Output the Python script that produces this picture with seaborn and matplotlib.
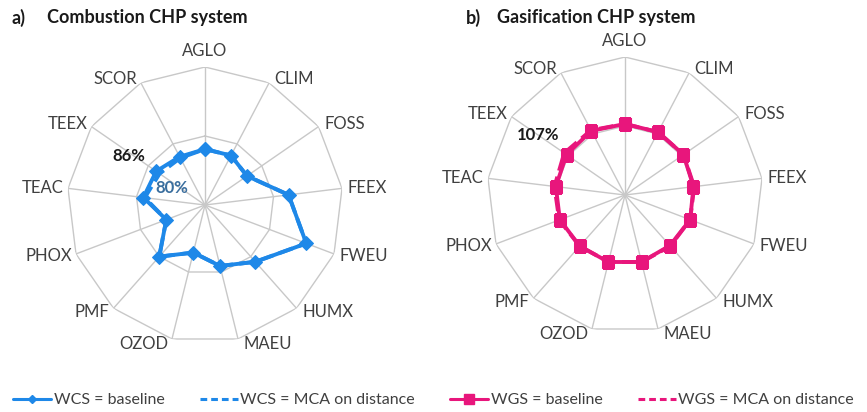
import numpy as np
import pandas as pd
import matplotlib
matplotlib.use("Agg")
import matplotlib.pyplot as plt
import seaborn as sns
from matplotlib.lines import Line2D

sns.set_theme(style="white")
plt.rcParams['font.family'] = ['Lato', 'DejaVu Sans']

categories = ["AGLO", "CLIM", "FOSS", "FEEX", "FWEU", "HUMX", "MAEU",
              "OZOD", "PMF", "PHOX", "TEAC", "TEEX", "SCOR"]

wcs_baseline = [0.81, 0.81, 0.74, 1.22, 1.57, 1.10, 0.91, 0.71, 1.00, 0.60, 0.90, 0.86, 0.79]
wcs_mca      = [0.81, 0.81, 0.74, 1.22, 1.57, 1.10, 0.91, 0.71, 1.00, 0.60, 0.88, 0.80, 0.77]
wgs_baseline = [1.03, 1.03, 1.03, 1.00, 1.01, 0.98, 1.00, 1.00, 0.99, 1.01, 1.01, 1.03, 1.05]
wgs_mca      = [1.03, 1.03, 1.03, 1.01, 1.01, 0.99, 1.00, 1.00, 0.99, 1.02, 1.03, 1.07, 1.06]

grid_levels = [1.0, 2.0]
r_max = 2.0

blue = "#1E88E8"
pink = "#E8167C"
grid_c = "#C8C8C8"
txt_c = "#404040"

W, H = 867, 412
fig = plt.figure(figsize=(W / 100, H / 100), dpi=100)

n = len(categories)
theta = np.arange(n) * 2 * np.pi / n


def loop(vals):
    th = np.append(theta, theta[0] + 2 * np.pi)
    v = np.append(np.asarray(vals, float), vals[0])
    return pd.DataFrame({"theta": th, "value": v})


def make_radar(rect, series, tag, title, tag_x, title_x):
    ax = fig.add_axes(rect, projection="polar")
    ax.set_theta_offset(np.pi / 2)
    ax.set_theta_direction(-1)
    ax.set_ylim(0, r_max)
    ax.grid(False)
    ax.spines["polar"].set_visible(False)
    ax.set_xticks([])
    ax.set_yticks([])
    ax.patch.set_alpha(0)
    # polygon grid
    th_closed = np.append(theta, theta[0] + 2 * np.pi)
    for lv in grid_levels:
        ax.plot(th_closed, [lv] * (n + 1), color=grid_c, lw=1.0, zorder=1)
    for t in theta:
        ax.plot([t, t], [0, r_max], color=grid_c, lw=1.0, zorder=1)
    # series
    for vals, color, ls, marker, ms in series:
        df = loop(vals)
        sns.lineplot(data=df, x="theta", y="value", ax=ax, sort=False,
                     color=color, linestyle=ls, lw=2.8,
                     marker=marker if marker else None, markersize=ms,
                     markeredgecolor=color, markerfacecolor=color, zorder=3)
    ax.set_xlabel("")
    ax.set_ylabel("")
    # category labels
    for t, lab in zip(theta, categories):
        s, c = np.sin(t), np.cos(t)
        if abs(s) < 0.05:
            ax.annotate(lab, xy=(t, r_max), xytext=(0, 6 if c > 0 else -4),
                        textcoords="offset points", ha="center",
                        va="bottom" if c > 0 else "top", fontsize=12, color=txt_c)
        else:
            ax.annotate(lab, xy=(t, r_max), xytext=(4 if s > 0 else -3, 3.5 * c),
                        textcoords="offset points",
                        ha="left" if s > 0 else "right", va="center",
                        fontsize=12, color=txt_c)
    fig.text(tag_x / W, 1 - 18 / H, tag, fontsize=13, fontweight="bold",
             color="#1A1A1A", va="center", ha="left")
    fig.text(title_x / W, 1 - 18 / H, title, fontsize=13, fontweight="bold",
             color="#1A1A1A", va="center", ha="left")
    return ax


rect_a = [67 / W, (H - 205 - 138) / H, 276 / W, 276 / H]
rect_b = [487 / W, (H - 195 - 138) / H, 276 / W, 276 / H]

ax_a = make_radar(rect_a, [(wcs_baseline, blue, "-", "D", 7),
                           (wcs_mca, blue, "--", None, 0)],
                  "a)", "Combustion CHP system", 11, 47)
ax_b = make_radar(rect_b, [(wgs_baseline, pink, "-", "s", 8.5),
                           (wgs_mca, pink, "--", None, 0)],
                  "b)", "Gasification CHP system", 466, 497)

i_teex = categories.index("TEEX")
ax_a.annotate(f"{wcs_baseline[i_teex]*100:.0f}%", xy=(theta[i_teex], wcs_baseline[i_teex]),
              xytext=(-20, 11), textcoords="offset points", ha="center", va="center",
              fontsize=12, fontweight="bold", color="#1A1A1A")
ax_a.annotate(f"{wcs_mca[i_teex]*100:.0f}%", xy=(theta[i_teex], wcs_mca[i_teex]),
              xytext=(9, -10), textcoords="offset points", ha="center", va="center",
              fontsize=12, fontweight="bold", color="#3A6E9E")
ax_b.annotate(f"{wgs_mca[i_teex]*100:.0f}%", xy=(theta[i_teex], wgs_mca[i_teex]),
              xytext=(-19, 13), textcoords="offset points", ha="center", va="center",
              fontsize=12, fontweight="bold", color="#1A1A1A")

handles = [
    Line2D([], [], color=blue, lw=2.2, marker="D", ms=4.5),
    Line2D([], [], color=blue, lw=2.2, ls=(0, (2.2, 1.3))),
    Line2D([], [], color=pink, lw=2.2, marker="s", ms=6.5),
    Line2D([], [], color=pink, lw=2.2, ls=(0, (2.2, 1.3))),
]
labels = ["WCS = baseline", "WCS = MCA on distance", "WGS = baseline", "WGS = MCA on distance"]
fig.legend(handles, labels, loc="center", bbox_to_anchor=(0.5, 1 - 400 / H), ncol=4,
           frameon=False, fontsize=11.5, handlelength=2.4, handletextpad=0.15,
           columnspacing=2.2, labelcolor=txt_c)

fig.savefig("out.png", dpi=100)
